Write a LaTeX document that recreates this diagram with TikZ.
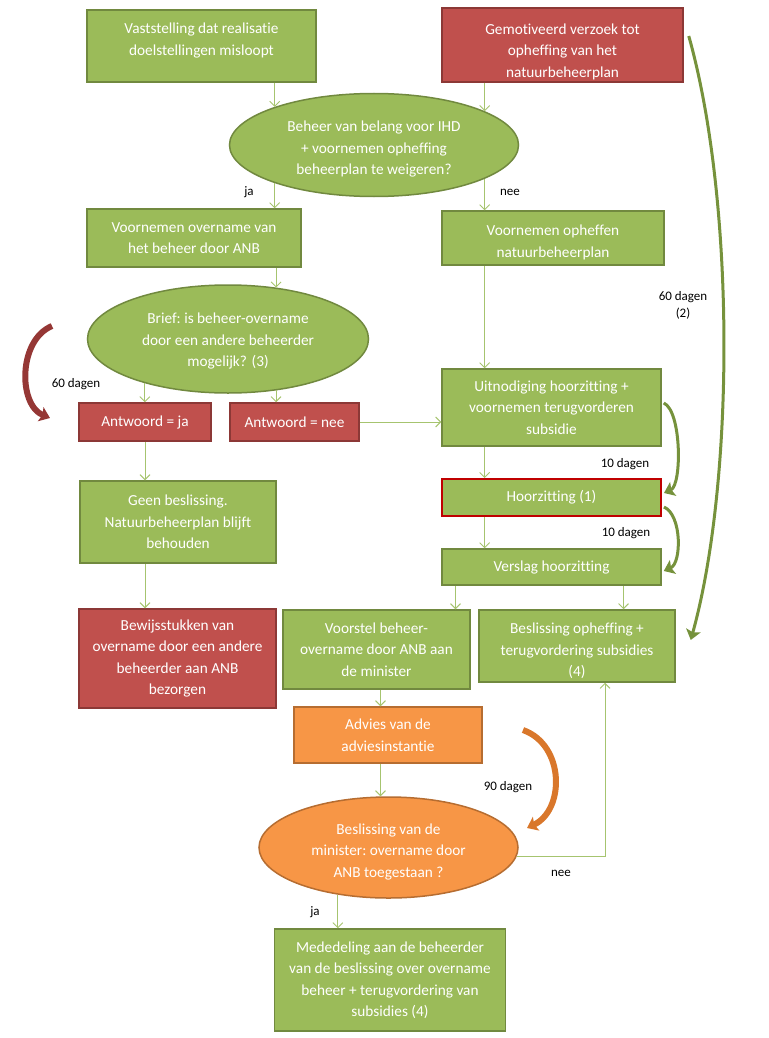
\documentclass[tikz,border=0pt]{standalone}
\usepackage{fontspec}
\setmainfont{Carlito}[Ligatures=NoCommon]
\usetikzlibrary{shapes.geometric,arrows.meta}
\definecolor{boxgreen}{HTML}{9BBB59}
\definecolor{linegreen}{HTML}{71893F}
\definecolor{boxred}{HTML}{C0504D}
\definecolor{linered}{HTML}{8C3836}
\definecolor{boxorange}{HTML}{F79646}
\definecolor{lineorange}{HTML}{B66D31}
\definecolor{hoorred}{HTML}{C00000}
\definecolor{arrowgreen}{HTML}{A6C46F}
\definecolor{curvered}{HTML}{953735}
\definecolor{curvegreen}{HTML}{76923C}
\definecolor{curveorange}{HTML}{D9772B}
\tikzset{
	basebox/.style={rectangle,line width=1.5pt,text=white,align=center,inner sep=0pt,font=\fontsize{15.3}{21.5}\selectfont},
	greenbox/.style={basebox,fill=boxgreen,draw=linegreen},
	redbox/.style={basebox,fill=boxred,draw=linered},
	orangebox/.style={basebox,fill=boxorange,draw=lineorange},
	greenoval/.style={greenbox,ellipse},
	orangeoval/.style={orangebox,ellipse},
	flow/.style={draw=arrowgreen,line width=0.9pt,-{Straight Barb[length=5pt,width=10pt]}},
	dagen/.style={font=\fontsize{13}{16.5}\selectfont,align=center,inner sep=0pt},
	bigcurve/.style={line cap=butt,-{Stealth[length=10pt,width=15pt,inset=2pt]}}
}
\begin{document}
\begin{tikzpicture}[x=1pt,y=-1pt]
	\useasboundingbox (0,0) rectangle (768,1038);
	% linker kolom
	\node[greenbox,minimum width=229,minimum height=72,text depth=14pt] (vaststelling) at (201.5,46) {Vaststelling dat realisatie\\doelstellingen misloopt};
	\node[redbox,minimum width=241,minimum height=74,text height=67pt] (verzoek) at (562.5,45) {Gemotiveerd verzoek tot\\opheffing van het\\natuurbeheerplan};
	\node[greenoval,minimum width=289,minimum height=103,text height=62pt] (belang) at (374,145) {Beheer van belang voor IHD\\+ voornemen opheffing\\beheerplan te weigeren?};
	\node[greenbox,minimum width=214,minimum height=58] (overname) at (194,238) {Voornemen overname van\\het beheer door ANB};
	\node[greenbox,minimum width=222,minimum height=54,text height=40.5pt] (opheffen) at (553,238) {Voornemen opheffen\\natuurbeheerplan};
	\node[greenoval,minimum width=281,minimum height=108,text height=57.7pt] (brief) at (228,339) {Brief:\ is beheer-overname\\door een andere beheerder\\mogelijk? (3)};
	\node[redbox,minimum width=132,minimum height=38] (antwja) at (145,422) {Antwoord = ja};
	\node[redbox,minimum width=129,minimum height=38] (antwnee) at (294.5,422) {Antwoord = nee};
	\node[greenbox,minimum width=196,minimum height=82] (geen) at (178,522) {Geen beslissing.\\Natuurbeheerplan blijft\\behouden};
	\node[redbox,minimum width=197,minimum height=99] (bewijs) at (177.5,658.5) {Bewijsstukken van\\overname door een andere\\beheerder aan ANB\\bezorgen};
	% rechter kolom
	\node[greenbox,minimum width=219,minimum height=77] (uitnodiging) at (551.5,407.5) {Uitnodiging hoorzitting +\\voornemen terugvorderen\\subsidie};
	\node[greenbox,draw=hoorred,line width=2pt,minimum width=219,minimum height=37] (hoorzitting) at (551.5,497.5) {Hoorzitting (1)};
	\node[greenbox,minimum width=219,minimum height=36] (verslag) at (551.5,567) {Verslag hoorzitting};
	\node[greenbox,minimum width=187,minimum height=79] (voorstel) at (376.5,649.5) {Voorstel beheer-\\overname door ANB aan\\de minister};
	\node[greenbox,minimum width=196,minimum height=72,text height=64pt] (opheffing) at (577,646) {Beslissing opheffing +\\terugvordering subsidies\\(4)};
	\node[orangebox,minimum width=188,minimum height=56] (advies) at (388,735) {Advies van de\\adviesinstantie};
	\node[orangeoval,minimum width=259,minimum height=101,text height=61.7pt] (minister) at (388.5,847.5) {Beslissing van de\\minister:\ overname door\\ANB toegestaan\ ?};
	\node[greenbox,minimum width=231,minimum height=102] (mededeling) at (390,980) {Mededeling aan de beheerder\\van de beslissing over overname\\beheer + terugvordering van\\subsidies (4)};
	% pijlen
	\draw[flow] (vaststelling.south -| belang.159) -- (belang.159);
	\draw[flow] (verzoek.south -| belang.17) -- (belang.17);
	\draw[flow] (belang.201) -- (overname.north -| belang.201);
	\draw[flow] (belang.343) -- (opheffen.north -| belang.343);
	\draw[flow] (overname.south -| brief.47) -- (brief.47);
	\draw[flow] (brief.208) -- (antwja.north -| brief.208);
	\draw[flow] (brief.313) -- (antwnee.north -| brief.313);
	\draw[flow] (antwnee.east) -- (uitnodiging.west |- antwnee.east);
	\draw[flow] (antwja.south) -- (geen.north -| antwja.south);
	\draw[flow] (geen.south -| antwja.south) -- (bewijs.north -| antwja.south);
	\draw[flow] (opheffen.south -| belang.17) -- (uitnodiging.north -| belang.17);
	\draw[flow] (uitnodiging.south -| belang.17) -- (hoorzitting.north -| belang.17);
	\draw[flow] (hoorzitting.south -| belang.17) -- (verslag.north -| belang.17);
	\draw[flow] ([xshift=-96pt]verslag.south) -- ([xshift=-96pt]verslag.south |- voorstel.north);
	\draw[flow] ([xshift=72pt]verslag.south) -- ([xshift=72pt]verslag.south |- opheffing.north);
	\draw[flow] ([xshift=4pt]voorstel.south) -- ([xshift=4pt]voorstel.south |- advies.north);
	\draw[flow] ([xshift=4pt]voorstel.south |- advies.south) -- ([xshift=4pt]voorstel.south |- minister.north);
	\draw[flow] (minister.223) -- (mededeling.north -| minister.223);
	\draw[flow] (minister.356) -| ([xshift=28pt]opheffing.south);
	% termijnen
	\draw[bigcurve,curvered,line width=6pt] (52,326) .. controls (18,340) and (18,405) .. (50,418);
	\draw[bigcurve,curveorange,line width=6pt] (523,730) .. controls (565,745) and (565,810) .. (527,828);
	\draw[bigcurve,curvegreen,line width=3pt] ([xshift=2pt,yshift=4.5pt]uitnodiging.east) .. controls +(18,8) and +(18,-8) .. ([xshift=2pt,yshift=4.5pt]hoorzitting.east);
	\draw[bigcurve,curvegreen,line width=3pt] ([xshift=2pt,yshift=-9.5pt]hoorzitting.east) .. controls +(18,8) and +(18,-8) .. ([xshift=2pt,yshift=-4pt]verslag.east);
	\draw[bigcurve,curvegreen,line width=3pt] ([xshift=5pt,yshift=9pt]verzoek.east) .. controls (735,200) and (735,480) .. ([xshift=15pt,yshift=6pt]opheffing.east);
	\node[dagen] (ja1) at (249,192) {ja};
	\node[dagen] (nee1) at (510,192) {nee};
	\node[dagen] (dagen60a) at (76,384) {60 dagen};
	\node[dagen] (dagen60b) at (683,305.5) {60 dagen\\(2)};
	\node[dagen] (dagen10a) at (625,464) {10 dagen};
	\node[dagen] (dagen10b) at (626,533) {10 dagen};
	\node[dagen] (dagen90) at (508,787) {90 dagen};
	\node[dagen] (nee2) at (561,873) {nee};
	\node[dagen] (ja2) at (315,912) {ja};
\end{tikzpicture}
\end{document}
